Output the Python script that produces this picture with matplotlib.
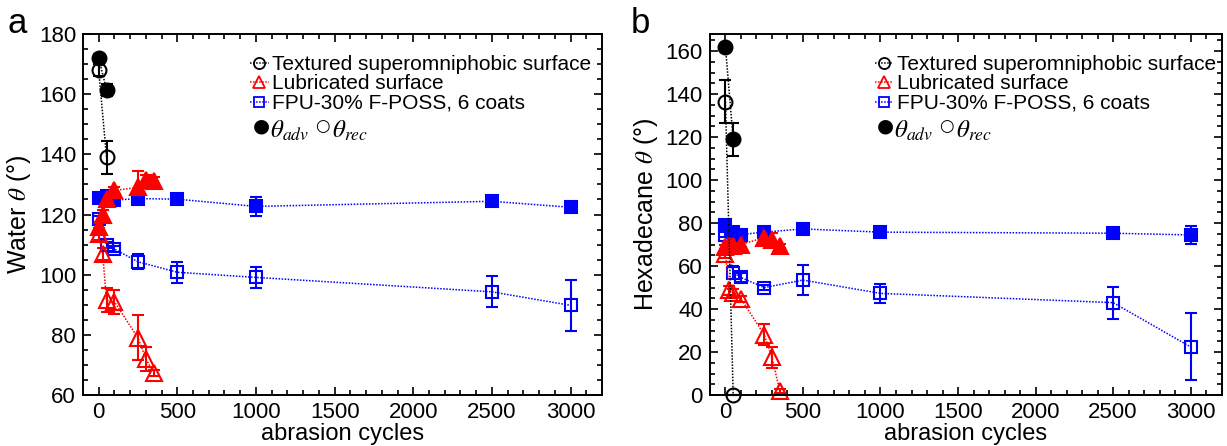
import numpy as np
import matplotlib.pyplot as plt
from matplotlib.lines import Line2D
from matplotlib.ticker import MultipleLocator

plt.rcParams["font.family"] = ["Liberation Sans", "DejaVu Sans"]
plt.rcParams["mathtext.fontset"] = "stix"

# ---- panel a: water ----
tex_x = [0, 50]
w_tex_adv = [172, 161.5]
w_tex_adv_err = [1.5, 2]
w_tex_rec = [168, 139]
w_tex_rec_err = [2, 5.6]

lub_x = [0, 25, 50, 100, 250, 300, 350]
w_lub_adv = [116, 120, 125, 128, 129, 131.5, 131]
w_lub_adv_err = [1.5, 1.5, 1.5, 1, 5.5, 1.5, 1.5]
w_lub_rec = [113.5, 107, 91.5, 91, 79, 72, 67.4]
w_lub_rec_err = [2, 2, 4, 4, 7.5, 4, 1]

fpu_x = [0, 50, 100, 250, 500, 1000, 2500, 3000]
w_fpu_adv = [125.6, 126.2, 124.8, 125.3, 125.1, 122.7, 124.4, 122.4]
w_fpu_adv_err = [0.8, 0.8, 0.8, 1.8, 0.8, 3.2, 0.8, 0.8]
w_fpu_rec = [118.5, 110, 108.5, 104.3, 100.8, 99.1, 94.3, 89.8]
w_fpu_rec_err = [1, 1, 1, 2.5, 3.5, 3.5, 5.2, 8.4]

# ---- panel b: hexadecane ----
h_tex_adv = [162, 119]
h_tex_adv_err = [1, 7.8]
h_tex_rec = [136.5, 0]
h_tex_rec_err = [10, 0]

h_lub_adv = [68.8, 69.8, 69.5, 70, 73.3, 72.3, 69.5]
h_lub_adv_err = [1, 1, 1, 1, 2, 3, 1]
h_lub_rec = [65.6, 48.7, 47.7, 44.8, 28.1, 17.5, 2]
h_lub_rec_err = [2, 2, 1.5, 1.5, 5, 5, 1]

h_fpu_adv = [78.9, 75.8, 74.7, 75.8, 77.3, 75.8, 75.3, 74.5]
h_fpu_adv_err = [1, 1, 1, 1, 1, 1, 1, 4]
h_fpu_rec = [74.7, 57, 54.7, 50, 53.5, 47.3, 43, 22.4]
h_fpu_rec_err = [1, 3, 2, 1, 7, 4.5, 7.4, 15.6]

legend_labels = ["Textured superomniphobic surface", "Lubricated surface", "FPU-30% F-POSS, 6 coats"]


def series(ax, x, y, err, color, marker, filled, ms):
    ax.errorbar(x, y, yerr=err, color=color, ls=(0, (1, 1)), lw=1.1,
                marker=marker, ms=ms, mew=1.5,
                mfc=color if filled else "none", mec=color,
                ecolor=color, elinewidth=1.5, capsize=4, capthick=1.5,
                clip_on=False)


def panel(ax, tex_adv, tex_adv_err, tex_rec, tex_rec_err,
          lub_adv, lub_adv_err, lub_rec, lub_rec_err,
          fpu_adv, fpu_adv_err, fpu_rec, fpu_rec_err):
    series(ax, fpu_x, fpu_adv, fpu_adv_err, "#0000ff", "s", True, 9)
    series(ax, fpu_x, fpu_rec, fpu_rec_err, "#0000ff", "s", False, 9)
    series(ax, lub_x, lub_adv, lub_adv_err, "#ff0000", "^", True, 11)
    series(ax, lub_x, lub_rec, lub_rec_err, "#ff0000", "^", False, 11)
    series(ax, tex_x, tex_adv, tex_adv_err, "black", "o", True, 10)
    series(ax, tex_x, tex_rec, tex_rec_err, "black", "o", False, 10)

    ax.set_xlim(-100, 3200)
    ax.xaxis.set_major_locator(MultipleLocator(500))
    ax.xaxis.set_minor_locator(MultipleLocator(100))
    ax.yaxis.set_major_locator(MultipleLocator(20))
    ax.yaxis.set_minor_locator(MultipleLocator(5))
    ax.tick_params(which="both", direction="in", top=True, right=True,
                   labelsize=16, width=1.2)
    ax.tick_params(which="major", length=6, pad=5)
    ax.tick_params(which="minor", length=3.5)
    for s in ax.spines.values():
        s.set_linewidth(1.4)
    ax.set_xlabel("abrasion cycles", fontsize=17, labelpad=0)

    handles = [
        Line2D([], [], color="black", ls=(0, (1, 1)), lw=1.1, marker="o", ms=8, mfc="none", mew=1.3),
        Line2D([], [], color="#ff0000", ls=(0, (1, 1)), lw=1.1, marker="^", ms=9, mfc="none", mew=1.3),
        Line2D([], [], color="#0000ff", ls=(0, (1, 1)), lw=1.1, marker="s", ms=7, mfc="none", mew=1.3),
    ]
    ax.legend(handles, legend_labels, loc="upper left", bbox_to_anchor=(0.322, 0.942),
              frameon=False, fontsize=15, handlelength=0.9, handletextpad=0.15,
              labelspacing=0.02, borderpad=0, borderaxespad=0)
    yrow = 0.745
    ax.text(0.343, yrow, "\u25cf", transform=ax.transAxes, fontsize=14,
            va="center", ha="center", family=["DejaVu Sans"])
    ax.text(0.360, yrow - 0.012, r"$\theta_{adv}$", transform=ax.transAxes, fontsize=18,
            va="center", ha="left")
    ax.text(0.462, yrow, "\u25cb", transform=ax.transAxes, fontsize=12,
            va="center", ha="center", family=["DejaVu Sans"])
    ax.text(0.480, yrow - 0.012, r"$\theta_{rec}$", transform=ax.transAxes, fontsize=18,
            va="center", ha="left")


fig = plt.figure(figsize=(12.27, 4.46), dpi=100)
ax1 = fig.add_axes([0.0676, 0.1143, 0.423, 0.8094])
ax2 = fig.add_axes([0.5786, 0.1143, 0.417, 0.8094])

panel(ax1, w_tex_adv, w_tex_adv_err, w_tex_rec, w_tex_rec_err,
      w_lub_adv, w_lub_adv_err, w_lub_rec, w_lub_rec_err,
      w_fpu_adv, w_fpu_adv_err, w_fpu_rec, w_fpu_rec_err)
ax1.set_ylim(60, 180)
ax1.set_ylabel(r"Water $\theta$ (°)", fontsize=18, labelpad=4)

panel(ax2, h_tex_adv, h_tex_adv_err, h_tex_rec, h_tex_rec_err,
      h_lub_adv, h_lub_adv_err, h_lub_rec, h_lub_rec_err,
      h_fpu_adv, h_fpu_adv_err, h_fpu_rec, h_fpu_rec_err)
ax2.set_ylim(0, 168)
ax2.set_ylabel(r"Hexadecane $\theta$ (°)", fontsize=18, labelpad=4)

fig.text(0.006, 0.985, "a", fontsize=25, va="top", ha="left")
fig.text(0.514, 0.985, "b", fontsize=25, va="top", ha="left")

fig.savefig("out.png", dpi=100)
